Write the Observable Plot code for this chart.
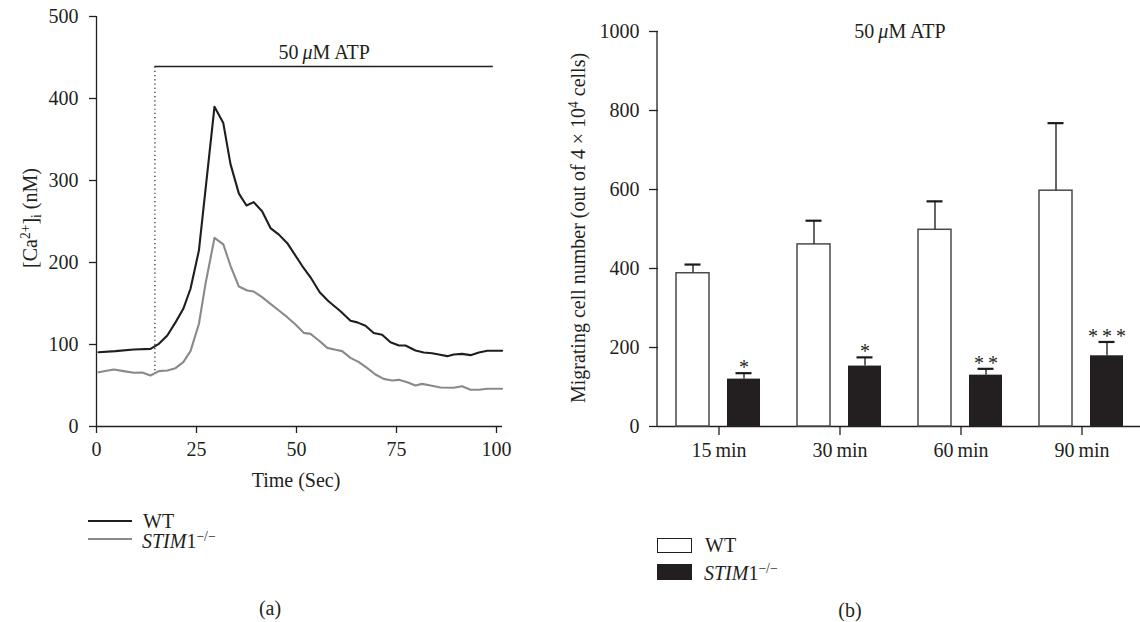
<!DOCTYPE html>
<html><head><meta charset="utf-8">
<script src="https://cdn.jsdelivr.net/npm/d3@7"></script>
<script src="https://cdn.jsdelivr.net/npm/@observablehq/plot@0.6"></script>
<style>
html,body{margin:0;padding:0;background:#fff;overflow:hidden;}
#root{position:relative;width:1140px;height:622px;font-family:"Liberation Serif",serif;font-size:20px;color:#231f20;}
.abs{position:absolute;white-space:nowrap;line-height:1;}
.rot{transform:translate(-50%,-50%) rotate(-90deg);}
.ctr{transform:translate(-50%,-50%);}
.lft{transform:translateY(-50%);}
sup{font-size:0.68em;vertical-align:0.5em;line-height:0;}
sub{font-size:0.68em;vertical-align:-0.3em;line-height:0;}
.sw{position:absolute;box-sizing:border-box;}
</style></head><body><div id="root"></div>
<script>
// ---------- Panel (a): [Ca2+]i time course ----------
const timeWT = [0.5,4.75,9.3,13.5,15.6,17.7,19.75,21.7,23.5,25.6,29.5,31.7,33.5,35.6,37.5,39.3,41.4,43.5,45.6,47.7,51.4,53.5,55.8,58,61,63.5,65.2,67.25,69.3,71.4,73.5,75.6,77.25,79.75,81.8,83.9,85.6,87.7,89.3,91.4,93.5,95.6,97.7,101.4];
const caWT = [90.6,91.9,93.9,94.7,100.8,111,127,143.5,168,214.6,390,370,320,284,269.5,273.6,262.6,242,234,223.6,196,182,163.8,152.8,140.6,129,127,122.8,114,112,102.8,98.8,98.8,92.7,90.2,89.4,87.8,85.8,87.8,88.6,87,90.2,92.3,92.3];
const timeKO = [0.5,4.3,6.8,9.3,11.4,13.5,15.6,17.7,19.75,21.7,23.5,25.6,27.25,29.5,31.7,33.5,35.6,37.7,39.3,41.4,43.5,45.6,47.7,49.75,51.8,53.5,55.6,57.7,59.75,61.4,63.5,65.6,67.7,69.75,71.8,73.9,75.6,77.7,79.75,81.4,83.5,86,89.3,91.4,93.5,95.6,97.7,101.4];
const caKO = [66.2,69.5,67.5,65.5,65.9,62.2,67.5,68.3,71.1,78.5,91.9,125,174,230,222,196,170.7,165.9,164.6,157.7,149.6,141.5,133.3,124.4,114.2,113,104.9,95.9,93.5,91.9,83.7,78.5,71.1,63.4,58.1,56.1,56.9,54,50,52,50,47.6,47.2,49.1,44.8,44.8,46,46];
const timeTicks = [0,25,50,75,100];
const caTicks = [0,100,200,300,400,500];
const atpStart = 14.6, atpEnd = 99.2, atpLevel = 439, atpDotBottom = 68;
const atpLabel = "50\u2009\u03bcM ATP";

// ---------- Panel (b): migration ----------
const times = ["15\u2009min","30\u2009min","60\u2009min","90\u2009min"];
const series = ["WT","STIM1-/-"];
const wtMean = [388,461,498,597];
const wtSem = [22,60,72,171];
const koMean = [120,153,130,179];
const koSem = [15,22,16,35];
const stars = ["*","*","*\u2009*","*\u2009*\u2009*"];
const countTicks = [0,200,400,600,800,1000];

const ink = "#231f20";
const curveWT = timeWT.map((t,i)=>({t, v: caWT[i]}));
const curveKO = timeKO.map((t,i)=>({t, v: caKO[i]}));
const table = [];
times.forEach((t,i)=>{
  table.push({time:t, s:series[0], mean:wtMean[i], hi:wtMean[i]+wtSem[i], star:""});
  table.push({time:t, s:series[1], mean:koMean[i], hi:koMean[i]+koSem[i], star:stars[i]});
});

const font = '"Liberation Serif", serif';
const root = document.getElementById("root");

const left = Plot.plot({
  width: 540, height: 500,
  marginLeft: 96, marginRight: 38, marginTop: 16, marginBottom: 74,
  style: {fontFamily: font, fontSize: "20px", color: ink, background: "transparent", overflow: "visible"},
  x: {domain: [0, 101.5]},
  y: {domain: [0, 500]},
  marks: [
    Plot.axisX({ticks: timeTicks, tickSize: 7, tickPadding: 8, label: null, stroke: ink, strokeWidth: 1.3, tickFormat: d => String(d)}),
    Plot.axisY({ticks: caTicks, tickSize: 7, tickPadding: 11, label: null, stroke: ink, strokeWidth: 1.3, tickFormat: d => String(d)}),
    Plot.ruleY([0], {stroke: ink, strokeWidth: 1.3}),
    Plot.ruleX([0], {stroke: ink, strokeWidth: 1.3}),
    Plot.ruleX([atpStart], {y1: atpDotBottom, y2: atpLevel, stroke: ink, strokeWidth: 1.2, strokeDasharray: "1.2 3"}),
    Plot.ruleY([atpLevel], {x1: atpStart, x2: atpEnd, stroke: ink, strokeWidth: 1.3}),
    Plot.text([atpLabel], {x: (atpStart + atpEnd) / 2, y: atpLevel, text: d => d, lineAnchor: "bottom", dy: -8, fill: ink}),
    Plot.line(curveKO, {x: "t", y: "v", stroke: "#8a8a8a", strokeWidth: 2.1}),
    Plot.line(curveWT, {x: "t", y: "v", stroke: "#1e1e1e", strokeWidth: 2.1})
  ]
});
d3.select(left).selectAll("text").each(function(){
  if (this.textContent === atpLabel) {
    const t = d3.select(this); t.text(null);
    t.append("tspan").text("50\u2009");
    t.append("tspan").attr("font-style","italic").text("\u03bc");
    t.append("tspan").text("M ATP");
  }
});

const right = Plot.plot({
  width: 582, height: 500,
  marginLeft: 97, marginRight: 0, marginTop: 31, marginBottom: 74,
  style: {fontFamily: font, fontSize: "20px", color: ink, background: "transparent", overflow: "visible"},
  fx: {domain: times, padding: 0, label: null},
  x: {domain: series, padding: 0.345, axis: null},
  y: {domain: [0, 1000]},
  marks: [
    Plot.axisFx({anchor: "bottom", tickSize: 9, tickPadding: 7, label: null, stroke: ink, strokeWidth: 1.3}),
    Plot.axisY({ticks: countTicks, tickSize: 9, tickPadding: 10, label: null, stroke: ink, strokeWidth: 1.3, tickFormat: d => String(d)}),
    Plot.ruleY([0], {stroke: ink, strokeWidth: 1.3}),
    Plot.barY(table.filter(d => d.s === series[0]), {fx: "time", x: "s", y: "mean", fill: "white", stroke: "#4a4a4a", strokeWidth: 1.5}),
    Plot.barY(table.filter(d => d.s === series[1]), {fx: "time", x: "s", y: "mean", fill: ink}),
    Plot.ruleX(table, {fx: "time", x: "s", y1: "mean", y2: "hi", stroke: "#333", strokeWidth: 1.5}),
    Plot.tickY(table, {fx: "time", x: "s", y: "hi", insetLeft: 8.5, insetRight: 8.5, stroke: "#1a1a1a", strokeWidth: 2.2}),
    Plot.text(table.filter(d => d.star), {fx: "time", x: "s", y: "hi", text: "star", lineAnchor: "bottom", dy: 1, fill: ink})
  ]
});
{
  const yS = right.scale("y"); const fxS = right.scale("fx");
  const x0 = fxS && fxS.range ? fxS.range[0] : 97;
  d3.select(right).append("line").attr("x1", x0).attr("x2", x0)
    .attr("y1", yS.range[0]).attr("y2", yS.range[1]).attr("stroke", ink).attr("stroke-width", 1.3);
}

function place(node, x, y, w) {
  const d = document.createElement("div");
  d.style.cssText = `position:absolute;left:${x}px;top:${y}px;width:${w}px;`;
  d.appendChild(node); root.appendChild(d);
}
place(left, 0, 0, 540);
place(right, 560, 0, 582);

function html(cls, x, y, content) {
  const d = document.createElement("div");
  d.className = "abs " + cls;
  d.style.left = x + "px"; d.style.top = y + "px";
  d.innerHTML = content; root.appendChild(d); return d;
}
function swatch(x, y, w, h, css) {
  const d = document.createElement("div");
  d.className = "sw";
  d.style.cssText += `left:${x}px;top:${y}px;width:${w}px;height:${h}px;` + css;
  root.appendChild(d);
}
// axis titles
html("rot", 30, 218, "[Ca<sup>2+</sup>]<sub>i</sub> (nM)");
html("ctr", 296, 480, "Time (Sec)");
html("rot", 578, 228, "Migrating cell number (out of 4 \u00d7 10<sup>4</sup> cells)");
html("ctr", 900, 30.5, "50\u2009<i>\u03bc</i>M ATP");
// legend (a)
swatch(88, 520, 44, 2, "background:#1e1e1e;");
swatch(88, 538, 44, 2, "background:#8a8a8a;");
html("lft", 143, 521, "WT");
html("lft", 142, 541, "<i>STIM</i>1<sup>\u2212/\u2212</sup>");
// legend (b)
swatch(657, 538, 35, 15, "background:#fff;border:1.5px solid " + ink + ";");
swatch(657, 564, 35, 16, "background:" + ink + ";");
html("lft", 705, 545, "WT");
html("lft", 704, 573, "<i>STIM</i>1<sup>\u2212/\u2212</sup>");
// panel labels
html("ctr", 270, 608, "(a)");
html("ctr", 850, 610, "(b)");
</script>
</body></html>
